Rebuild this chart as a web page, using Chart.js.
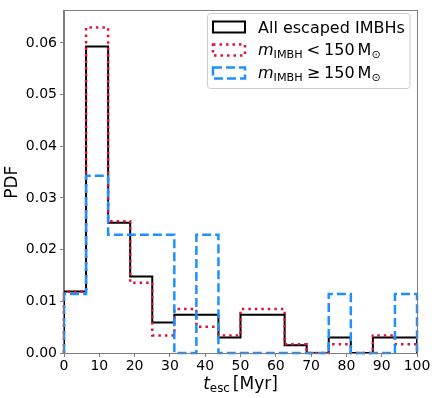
<!DOCTYPE html>
<html><head><meta charset="utf-8">
<script src="https://cdn.jsdelivr.net/npm/chart.js@4.4.1/dist/chart.umd.min.js"></script>
<style>html,body{margin:0;padding:0;background:#fff;} #wrap{width:436px;height:398px;position:relative;}</style>
</head><body><div id="wrap"><canvas id="c" width="436" height="398"></canvas></div>
<script>
// ---- data ----
const binEdges = [0, 6.25, 12.5, 18.75, 25, 31.25, 37.5, 43.75, 50, 56.25, 62.5, 68.75, 75, 81.25, 87.5, 93.75, 100];
const allEscaped = [0.0119, 0.0593, 0.0252, 0.0148, 0.0059, 0.0074, 0.0074, 0.0030, 0.0074, 0.0074, 0.0015, 0, 0.0030, 0, 0.0030, 0.0030];
const lowMass    = [0.0119, 0.0630, 0.0255, 0.0136, 0.0034, 0.0085, 0.0051, 0.0034, 0.0085, 0.0085, 0.0017, 0, 0.0017, 0, 0.0034, 0.0017];
const highMass   = [0.0114, 0.0343, 0.0229, 0.0229, 0.0229, 0, 0.0229, 0, 0, 0, 0, 0, 0.0114, 0, 0, 0.0114];
const seriesNames = ['All escaped IMBHs', 'm_IMBH < 150 M_⊙', 'm_IMBH ≥ 150 M_⊙'];
const xTickValues = [0, 10, 20, 30, 40, 50, 60, 70, 80, 90, 100];
const yTickValues = [0, 0.01, 0.02, 0.03, 0.04, 0.05, 0.06];
const yTitle = 'PDF';

const FONT = 'DejaVu Sans';
const SPINE = '#7f7f7f';
const C_ALL = '#000000', C_LOW = '#DC143C', C_HIGH = '#1E90FF';

function stepPoints(edges, vals) {
  const pts = [{x: edges[0], y: 0}];
  for (let i = 0; i < vals.length; i++) {
    pts.push({x: edges[i], y: vals[i]});
    pts.push({x: edges[i + 1], y: vals[i]});
  }
  pts.push({x: edges[edges.length - 1], y: 0});
  return pts;
}

function drawRich(ctx, x, y, parts) {
  let cx = x;
  for (const p of parts) {
    if (p.gap) { cx += p.gap; continue; }
    ctx.font = (p.italic ? 'italic ' : '') + p.size + 'px "' + FONT + '"';
    ctx.fillText(p.t, cx, y + (p.dy || 0));
    cx += ctx.measureText(p.t).width;
  }
  return cx - x;
}
function richWidth(ctx, parts) {
  let w = 0;
  for (const p of parts) {
    if (p.gap) { w += p.gap; continue; }
    ctx.font = (p.italic ? 'italic ' : '') + p.size + 'px "' + FONT + '"';
    w += ctx.measureText(p.t).width;
  }
  return w;
}
function mathLabel(rel) {
  return [
    {t: 'm', italic: true, size: 16},
    {t: 'IMBH', size: 11.2, dy: 3},
    {gap: 4},
    {t: rel, size: 16},
    {gap: 4},
    {t: '150', size: 16},
    {gap: 3},
    {t: 'M', size: 16},
    {t: '⊙', size: 11.2, dy: 3}
  ];
}

const overlay = {
  id: 'overlay',
  afterDraw(chart) {
    const ctx = chart.ctx, a = chart.chartArea;
    ctx.save();
    // frame (top/right spines)
    ctx.strokeStyle = SPINE; ctx.lineWidth = 1;
    ctx.strokeRect(Math.round(a.left) - 0.5, Math.round(a.top) - 0.5, Math.round(a.right) - Math.round(a.left) + 1, Math.round(a.bottom) - Math.round(a.top) + 1);

    // x title: t_esc [Myr]
    ctx.fillStyle = '#000'; ctx.textBaseline = 'alphabetic'; ctx.textAlign = 'left';
    const xt = [
      {t: 't', italic: true, size: 17},
      {t: 'esc', size: 11.9, dy: 3},
      {gap: 3},
      {t: '[Myr]', size: 17}
    ];
    const w = richWidth(ctx, xt);
    drawRich(ctx, (a.left + a.right) / 2 - w / 2, 389, xt);

    // legend
    const lx = 207.5, ly = 13.5, lw = 202.5, lh = 75, r = 3;
    ctx.beginPath();
    ctx.moveTo(lx + r, ly); ctx.lineTo(lx + lw - r, ly); ctx.quadraticCurveTo(lx + lw, ly, lx + lw, ly + r);
    ctx.lineTo(lx + lw, ly + lh - r); ctx.quadraticCurveTo(lx + lw, ly + lh, lx + lw - r, ly + lh);
    ctx.lineTo(lx + r, ly + lh); ctx.quadraticCurveTo(lx, ly + lh, lx, ly + lh - r);
    ctx.lineTo(lx, ly + r); ctx.quadraticCurveTo(lx, ly, lx + r, ly); ctx.closePath();
    ctx.fillStyle = 'rgba(255,255,255,0.8)'; ctx.fill();
    ctx.strokeStyle = '#cccccc'; ctx.lineWidth = 1; ctx.stroke();

    const rows = [27, 50, 73];
    const styles = [
      {c: C_ALL, w: 2, d: []},
      {c: C_LOW, w: 2.5, d: [2.5, 4]},
      {c: C_HIGH, w: 2.5, d: [9, 4]}
    ];
    rows.forEach((cy, i) => {
      const s = styles[i];
      ctx.save();
      ctx.strokeStyle = s.c; ctx.lineWidth = s.w; ctx.setLineDash(s.d); ctx.lineCap = 'butt';
      ctx.strokeRect(213, cy - 5.5, 32, 11);
      ctx.restore();
      ctx.fillStyle = '#000';
      if (i === 0) {
        ctx.font = '16px "' + FONT + '"';
        ctx.fillText(seriesNames[0], 258, cy + 6);
      } else {
        drawRich(ctx, 258, cy + 5, mathLabel(i === 1 ? '<' : '≥'));
      }
    });
    ctx.restore();
  }
};

Chart.defaults.font.family = FONT;
Chart.defaults.color = '#000';

new Chart(document.getElementById('c'), {
  type: 'line',
  data: {
    datasets: [
      {label: seriesNames[0], data: stepPoints(binEdges, allEscaped), borderColor: C_ALL, borderWidth: 2, order: 3},
      {label: seriesNames[1], data: stepPoints(binEdges, lowMass), borderColor: C_LOW, borderWidth: 2.5, borderDash: [2.5, 4], order: 2},
      {label: seriesNames[2], data: stepPoints(binEdges, highMass), borderColor: C_HIGH, borderWidth: 2.5, borderDash: [9, 4], order: 1}
    ].map(d => Object.assign(d, {fill: false, pointRadius: 0, pointHoverRadius: 0, tension: 0, borderCapStyle: 'butt', borderJoinStyle: 'miter', clip: 3}))
  },
  options: {
    responsive: false, animation: false, devicePixelRatio: 1,
    layout: {padding: {left: 0, right: 19, top: 6, bottom: 0}},
    plugins: {legend: {display: false}, tooltip: {enabled: false}},
    scales: {
      x: {
        type: 'linear', min: 0, max: 100,
        afterBuildTicks: s => { s.ticks = xTickValues.map(v => ({value: v})); },
        afterFit: s => { s.height = 45; },
        ticks: {font: {size: 14}, color: '#000', padding: 1, maxRotation: 0, autoSkip: false, callback: v => String(v)},
        grid: {drawOnChartArea: false, drawTicks: true, tickLength: 4, tickColor: SPINE, tickWidth: 1},
        border: {display: true, color: SPINE, width: 1}
      },
      y: {
        type: 'linear', min: 0, max: 0.0661,
        afterBuildTicks: s => { s.ticks = yTickValues.map(v => ({value: v})); },
        afterFit: s => { s.width = 64; },
        ticks: {font: {size: 14}, color: '#000', padding: 3, autoSkip: false, callback: v => Number(v).toFixed(2)},
        grid: {drawOnChartArea: false, drawTicks: true, tickLength: 4, tickColor: SPINE, tickWidth: 1},
        border: {display: true, color: SPINE, width: 1},
        title: {display: true, text: yTitle, font: {size: 17}, color: '#000', padding: {top: 2, bottom: 0}}
      }
    }
  },
  plugins: [overlay]
});
</script></body></html>
